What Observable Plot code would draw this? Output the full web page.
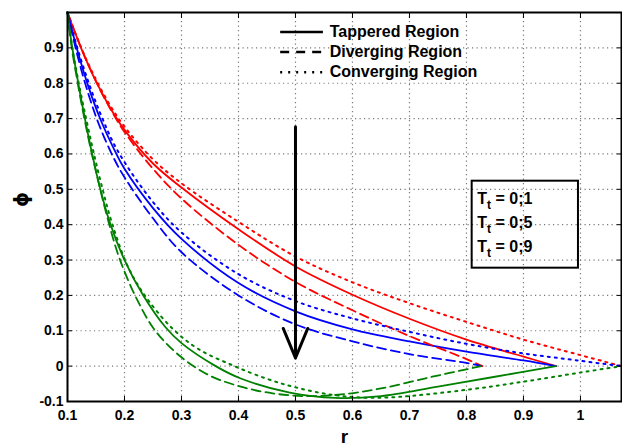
<!DOCTYPE html>
<html>
<head>
<meta charset="utf-8">
<script src="https://cdn.jsdelivr.net/npm/d3@7"></script>
<script src="https://cdn.jsdelivr.net/npm/@observablehq/plot@0.6"></script>
<style>
  html, body { margin: 0; padding: 0; background: #fff; }
  #chart svg { display: block; }
</style>
</head>
<body>
<div id="chart"></div>
<script>
// ---------- data ----------
const ttLevels = ["0.1", "0.5", "0.9"];
const ttLabels = ["0;1", "0;5", "0;9"];
const ttColors = ["#ff0000", "#0000ff", "#008000"];
const regions = ["Tappered", "Diverging", "Converging"];
const legendLabels = ["Tappered Region", "Diverging Region", "Converging Region"];
const xTicks = [0.1, 0.2, 0.3, 0.4, 0.5, 0.6, 0.7, 0.8, 0.9, 1.0];
const yTicks = [-0.1, 0, 0.1, 0.2, 0.3, 0.4, 0.5, 0.6, 0.7, 0.8, 0.9];

// Tt = 0.1 (red)
const rRedTap = [0.1, 0.125, 0.15, 0.175, 0.2, 0.25, 0.3, 0.4, 0.5, 0.6, 0.7, 0.8, 0.9, 0.957];
const pRedTap = [1, 0.895, 0.805, 0.73, 0.668, 0.573, 0.505, 0.387, 0.282, 0.202, 0.134, 0.075, 0.027, 0];
const rRedDiv = [0.1, 0.125, 0.15, 0.175, 0.2, 0.25, 0.3, 0.4, 0.5, 0.6, 0.7, 0.8, 0.828];
const pRedDiv = [1, 0.895, 0.805, 0.728, 0.662, 0.558, 0.474, 0.343, 0.238, 0.158, 0.085, 0.02, 0];
const rRedCon = [0.1, 0.125, 0.15, 0.175, 0.2, 0.25, 0.3, 0.4, 0.5, 0.6, 0.7, 0.8, 0.9, 1.0, 1.072];
const pRedCon = [1, 0.897, 0.81, 0.737, 0.677, 0.585, 0.517, 0.408, 0.31, 0.237, 0.178, 0.125, 0.075, 0.031, 0];

// Tt = 0.5 (blue)
const rBlueTap = [0.1, 0.117, 0.137, 0.157, 0.184, 0.2, 0.25, 0.3, 0.4, 0.5, 0.6, 0.7, 0.8, 0.9, 0.957];
const pBlueTap = [1, 0.895, 0.789, 0.701, 0.606, 0.558, 0.447, 0.36, 0.235, 0.155, 0.104, 0.07, 0.041, 0.016, 0];
const rBlueDiv = [0.1, 0.116, 0.135, 0.155, 0.18, 0.2, 0.25, 0.3, 0.4, 0.5, 0.6, 0.7, 0.8, 0.826];
const pBlueDiv = [1, 0.888, 0.778, 0.684, 0.592, 0.534, 0.418, 0.322, 0.2, 0.118, 0.07, 0.034, 0.009, 0];
const rBlueCon = [0.1, 0.118, 0.139, 0.16, 0.188, 0.246, 0.3, 0.4, 0.5, 0.6, 0.7, 0.8, 0.9, 1.0, 1.072];
const pBlueCon = [1, 0.896, 0.793, 0.705, 0.609, 0.472, 0.378, 0.26, 0.184, 0.135, 0.097, 0.063, 0.036, 0.015, 0];

// Tt = 0.9 (green)
const rGreenTap = [0.1, 0.108, 0.12, 0.132, 0.143, 0.157, 0.175, 0.2, 0.233, 0.272, 0.3, 0.36, 0.404, 0.49, 0.57, 0.65, 0.75, 0.85, 0.957];
const pGreenTap = [1, 0.904, 0.79, 0.688, 0.602, 0.504, 0.403, 0.3, 0.2, 0.11, 0.065, 0, -0.035, -0.075, -0.09, -0.085, -0.058, -0.03, 0];
const rGreenDiv = [0.1, 0.107, 0.118, 0.129, 0.14, 0.153, 0.17, 0.19, 0.22, 0.254, 0.3, 0.35, 0.404, 0.46, 0.52, 0.58, 0.65, 0.74, 0.826];
const pGreenDiv = [1, 0.905, 0.8, 0.705, 0.62, 0.53, 0.42, 0.31, 0.195, 0.1, 0.025, -0.027, -0.058, -0.077, -0.085, -0.08, -0.063, -0.03, 0];
const rGreenCon = [0.1, 0.109, 0.121, 0.134, 0.146, 0.16, 0.178, 0.207, 0.24, 0.285, 0.33, 0.39, 0.45, 0.5, 0.56, 0.62, 0.68, 0.8, 0.9, 1.0, 1.072];
const pGreenCon = [1, 0.895, 0.79, 0.69, 0.603, 0.51, 0.405, 0.278, 0.19, 0.105, 0.048, 0.002, -0.036, -0.06, -0.08, -0.089, -0.087, -0.067, -0.044, -0.018, 0];

// annotation arrow (data units)
const arrowR = 0.5, arrowFrom = 0.677, arrowTo = 0.023;

// ---------- assemble table ----------
const series = [
  {tt: "0.1", region: "Tappered", r: rRedTap, phi: pRedTap},
  {tt: "0.1", region: "Diverging", r: rRedDiv, phi: pRedDiv},
  {tt: "0.1", region: "Converging", r: rRedCon, phi: pRedCon},
  {tt: "0.5", region: "Tappered", r: rBlueTap, phi: pBlueTap},
  {tt: "0.5", region: "Diverging", r: rBlueDiv, phi: pBlueDiv},
  {tt: "0.5", region: "Converging", r: rBlueCon, phi: pBlueCon},
  {tt: "0.9", region: "Tappered", r: rGreenTap, phi: pGreenTap},
  {tt: "0.9", region: "Diverging", r: rGreenDiv, phi: pGreenDiv},
  {tt: "0.9", region: "Converging", r: rGreenCon, phi: pGreenCon}
];
const rows = [];
for (const s of series) s.r.forEach((r, i) => rows.push({tt: s.tt, region: s.region, r, phi: s.phi[i]}));

// ---------- layout constants ----------
const dashes = {Tappered: null, Diverging: "9,5", Converging: "2,5"};
const legendX1 = 0.474, legendX2 = 0.549, legendTextX = 0.56;
const legendY = [0.945, 0.888, 0.831];
const boxX1 = 0.81, boxX2 = 0.9965, boxY1 = 0.277, boxY2 = 0.523;
const boxTextX = 0.819, boxTextY = [0.472, 0.404, 0.338];
const font = "'Liberation Sans', Arial, Helvetica, sans-serif";
const fmt = d => String(+d.toFixed(1));

const legendRows = regions.map((reg, i) => ({region: reg, label: legendLabels[i], y: legendY[i]}));
const boxRows = ttLevels.map((t, i) => ({tt: t, label: "Tt = " + ttLabels[i], y: boxTextY[i]}));

const lineMarks = regions.map(reg => Plot.line(rows.filter(d => d.region === reg), {
  x: "r", y: "phi", z: "tt", stroke: "tt", curve: "catmull-rom",
  strokeWidth: reg === "Converging" ? 2 : 1.8,
  strokeDasharray: dashes[reg]
}));
const legendMarks = regions.map(reg => Plot.ruleY(legendRows.filter(d => d.region === reg), {
  y: "y", x1: () => legendX1, x2: () => legendX2, stroke: "#000",
  strokeWidth: 2.5, strokeDasharray: dashes[reg] ? (reg === "Diverging" ? "9,7" : "2,6") : null
}));

const plot = Plot.plot({
  width: 622,
  height: 446,
  marginLeft: 67,
  marginRight: 1,
  marginTop: 12,
  marginBottom: 45,
  style: {fontFamily: font, fontSize: "14px", fontWeight: "bold", background: "#fff", color: "#000"},
  x: {domain: [0.1, 1.072], ticks: xTicks},
  y: {domain: [-0.1, 1.0], ticks: yTicks},
  color: {domain: ttLevels, range: ttColors},
  marks: [
    Plot.gridX(xTicks, {stroke: "#7a7a7a", strokeOpacity: 1, strokeWidth: 1.2, strokeDasharray: "1.2,3.3"}),
    Plot.gridY(yTicks, {stroke: "#7a7a7a", strokeOpacity: 1, strokeWidth: 1.2, strokeDasharray: "1.2,3.3"}),
    ...lineMarks,
    Plot.arrow([{x: arrowR, y1: arrowFrom, y2: arrowTo}], {
      x1: "x", x2: "x", y1: "y1", y2: "y2", stroke: "#000", strokeWidth: 3, headLength: 16, headAngle: 45
    }),
    ...legendMarks,
    Plot.text(legendRows, {x: () => legendTextX, y: "y", text: "label", textAnchor: "start",
      lineAnchor: "middle", fontSize: 16, fontWeight: "bold", fill: "#000"}),
    Plot.rect([{x1: boxX1, x2: boxX2, y1: boxY1, y2: boxY2}], {
      x1: "x1", x2: "x2", y1: "y1", y2: "y2", fill: "none", stroke: "#000", strokeWidth: 2
    }),
    Plot.text(boxRows, {x: () => boxTextX, y: "y", text: "label", textAnchor: "start",
      lineAnchor: "middle", fontSize: 16, fontWeight: "bold", fill: "#000"}),
    Plot.frame({stroke: "#000", strokeWidth: 2}),
    Plot.axisX(xTicks, {anchor: "bottom", tickSize: 0, tickPadding: 9, tickFormat: fmt, label: null}),
    Plot.axisX(xTicks, {anchor: "bottom", tickSize: 5, dy: -5, fill: "none", label: null}),
    Plot.axisX(xTicks, {anchor: "top", tickSize: 5, dy: 5, fill: "none", label: null}),
    Plot.axisY(yTicks, {anchor: "left", tickSize: 0, tickPadding: 4, tickFormat: fmt, label: null}),
    Plot.axisY(yTicks, {anchor: "left", tickSize: 5, dx: 5, fill: "none", label: null}),
    Plot.axisY(yTicks, {anchor: "right", tickSize: 5, dx: -5, fill: "none", label: null}),
    Plot.text(["r"], {frameAnchor: "bottom", dy: 35, lineAnchor: "middle", fontSize: 19, fontWeight: "bold"}),
    Plot.text(["ϕ"], {frameAnchor: "left", dx: -46, rotate: -90, fontSize: 19, fontWeight: "bold",
      fontFamily: "'DejaVu Sans', 'Liberation Sans', sans-serif"})
  ]
});

// subscript "t" in the Tt labels
d3.select(plot).selectAll("text").filter(function () {
  return this.textContent.startsWith("Tt = ");
}).each(function () {
  const rest = this.textContent.slice(2);
  const el = d3.select(this);
  el.text(null);
  el.append("tspan").text("T");
  el.append("tspan").attr("dy", 5).attr("font-size", 12).text("t");
  el.append("tspan").attr("dy", -5).text(rest);
});

document.getElementById("chart").appendChild(plot);
</script>
</body>
</html>
